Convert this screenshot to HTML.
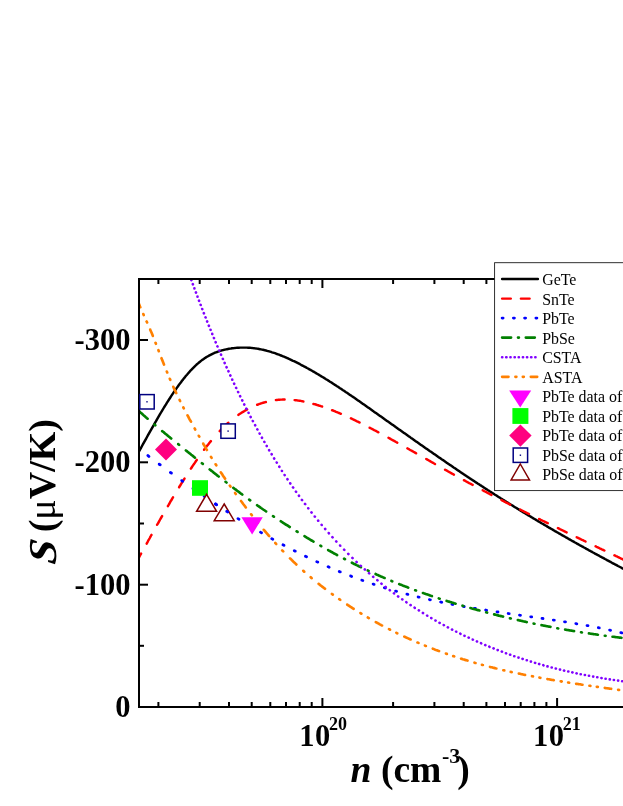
<!DOCTYPE html>
<html><head><meta charset="utf-8"><title>chart</title>
<style>html,body{margin:0;padding:0;background:#fff;}body{width:623px;height:806px;position:relative;overflow:hidden;font-family:"Liberation Serif",serif;}</style></head>
<body>
<svg width="623" height="806" viewBox="0 0 623 806" style="position:absolute;left:0;top:0;will-change:transform;opacity:0.999">
<defs><clipPath id="cp"><rect x="139" y="279" width="500" height="428"/></clipPath></defs>
<g clip-path="url(#cp)" fill="none" stroke-linecap="round" stroke-linejoin="round">
<path d="M133.0,462.3 L134.0,460.5 L135.0,458.7 L136.0,456.9 L137.0,455.1 L138.0,453.3 L139.0,451.5 L140.0,449.6 L141.0,447.8 L142.0,446.0 L143.0,444.2 L144.0,442.4 L145.0,440.6 L146.0,438.8 L147.0,437.0 L148.0,435.2 L149.0,433.4 L150.0,431.6 L151.0,429.9 L152.0,428.1 L153.0,426.3 L154.0,424.6 L155.0,422.8 L156.0,421.1 L157.0,419.3 L158.0,417.6 L159.0,415.9 L160.0,414.2 L161.0,412.5 L162.0,410.8 L163.0,409.2 L164.0,407.5 L165.0,405.9 L166.0,404.3 L167.0,402.7 L168.0,401.1 L169.0,399.5 L170.0,398.0 L171.0,396.4 L172.0,394.9 L173.0,393.4 L174.0,391.9 L175.0,390.5 L176.0,389.0 L177.0,387.6 L178.0,386.2 L179.0,384.8 L180.0,383.5 L181.0,382.2 L182.0,380.8 L183.0,379.6 L184.0,378.3 L185.0,377.1 L186.0,375.8 L187.0,374.7 L188.0,373.5 L189.0,372.4 L190.0,371.2 L191.0,370.2 L192.0,369.1 L193.0,368.1 L194.0,367.1 L195.0,366.1 L196.0,365.2 L197.0,364.2 L198.0,363.4 L199.0,362.5 L200.0,361.7 L201.0,360.9 L202.0,360.1 L203.0,359.4 L204.0,358.7 L205.0,358.0 L206.0,357.4 L207.0,356.8 L208.0,356.2 L209.0,355.6 L210.0,355.1 L211.0,354.6 L212.0,354.1 L213.0,353.6 L214.0,353.2 L215.0,352.7 L216.0,352.3 L217.0,352.0 L218.0,351.6 L219.0,351.3 L220.0,350.9 L221.0,350.6 L222.0,350.3 L223.0,350.1 L224.0,349.8 L225.0,349.6 L226.0,349.4 L227.0,349.2 L228.0,349.0 L229.0,348.8 L230.0,348.6 L231.0,348.5 L232.0,348.3 L233.0,348.2 L234.0,348.1 L235.0,348.0 L236.0,347.9 L237.0,347.8 L238.0,347.7 L239.0,347.7 L240.0,347.6 L241.0,347.6 L242.0,347.6 L243.0,347.6 L244.0,347.6 L245.0,347.6 L246.0,347.6 L247.0,347.6 L248.0,347.7 L249.0,347.7 L250.0,347.8 L251.0,347.9 L252.0,348.0 L253.0,348.1 L254.0,348.2 L255.0,348.4 L256.0,348.5 L257.0,348.6 L258.0,348.8 L259.0,349.0 L260.0,349.2 L261.0,349.4 L262.0,349.6 L263.0,349.8 L264.0,350.0 L265.0,350.3 L266.0,350.5 L267.0,350.8 L268.0,351.1 L269.0,351.3 L270.0,351.6 L271.0,351.9 L272.0,352.3 L273.0,352.6 L274.0,352.9 L275.0,353.2 L276.0,353.6 L277.0,354.0 L278.0,354.3 L279.0,354.7 L280.0,355.1 L281.0,355.5 L282.0,355.9 L283.0,356.3 L284.0,356.7 L285.0,357.1 L286.0,357.5 L287.0,358.0 L288.0,358.4 L289.0,358.9 L290.0,359.3 L291.0,359.8 L292.0,360.3 L293.0,360.8 L294.0,361.2 L295.0,361.7 L296.0,362.2 L297.0,362.7 L298.0,363.2 L299.0,363.7 L300.0,364.2 L301.0,364.8 L302.0,365.3 L303.0,365.8 L304.0,366.4 L305.0,366.9 L306.0,367.4 L307.0,368.0 L308.0,368.5 L309.0,369.1 L310.0,369.7 L311.0,370.2 L312.0,370.8 L313.0,371.4 L314.0,371.9 L315.0,372.5 L316.0,373.1 L317.0,373.7 L318.0,374.3 L319.0,374.9 L320.0,375.5 L321.0,376.1 L322.0,376.7 L323.0,377.3 L324.0,377.9 L325.0,378.5 L326.0,379.2 L327.0,379.8 L328.0,380.4 L329.0,381.0 L330.0,381.7 L331.0,382.3 L332.0,382.9 L333.0,383.6 L334.0,384.2 L335.0,384.9 L336.0,385.5 L337.0,386.2 L338.0,386.8 L339.0,387.5 L340.0,388.2 L341.0,388.8 L342.0,389.5 L343.0,390.2 L344.0,390.8 L345.0,391.5 L346.0,392.2 L347.0,392.8 L348.0,393.5 L349.0,394.2 L350.0,394.9 L351.0,395.6 L352.0,396.3 L353.0,396.9 L354.0,397.6 L355.0,398.3 L356.0,399.0 L357.0,399.7 L358.0,400.4 L359.0,401.1 L360.0,401.8 L361.0,402.5 L362.0,403.2 L363.0,403.9 L364.0,404.6 L365.0,405.3 L366.0,406.0 L367.0,406.7 L368.0,407.4 L369.0,408.1 L370.0,408.8 L371.0,409.5 L372.0,410.2 L373.0,410.9 L374.0,411.7 L375.0,412.4 L376.0,413.1 L377.0,413.8 L378.0,414.5 L379.0,415.2 L380.0,415.9 L381.0,416.6 L382.0,417.3 L383.0,418.0 L384.0,418.7 L385.0,419.5 L386.0,420.2 L387.0,420.9 L388.0,421.6 L389.0,422.3 L390.0,423.0 L391.0,423.7 L392.0,424.4 L393.0,425.1 L394.0,425.8 L395.0,426.5 L396.0,427.3 L397.0,428.0 L398.0,428.7 L399.0,429.4 L400.0,430.1 L401.0,430.8 L402.0,431.5 L403.0,432.2 L404.0,432.9 L405.0,433.6 L406.0,434.3 L407.0,435.0 L408.0,435.7 L409.0,436.4 L410.0,437.1 L411.0,437.9 L412.0,438.6 L413.0,439.3 L414.0,440.0 L415.0,440.7 L416.0,441.4 L417.0,442.1 L418.0,442.8 L419.0,443.5 L420.0,444.2 L421.0,444.9 L422.0,445.6 L423.0,446.3 L424.0,447.0 L425.0,447.7 L426.0,448.4 L427.0,449.1 L428.0,449.8 L429.0,450.5 L430.0,451.2 L431.0,451.8 L432.0,452.5 L433.0,453.2 L434.0,453.9 L435.0,454.6 L436.0,455.3 L437.0,456.0 L438.0,456.7 L439.0,457.4 L440.0,458.1 L441.0,458.8 L442.0,459.5 L443.0,460.1 L444.0,460.8 L445.0,461.5 L446.0,462.2 L447.0,462.9 L448.0,463.6 L449.0,464.2 L450.0,464.9 L451.0,465.6 L452.0,466.3 L453.0,467.0 L454.0,467.7 L455.0,468.3 L456.0,469.0 L457.0,469.7 L458.0,470.4 L459.0,471.0 L460.0,471.7 L461.0,472.4 L462.0,473.1 L463.0,473.7 L464.0,474.4 L465.0,475.1 L466.0,475.7 L467.0,476.4 L468.0,477.1 L469.0,477.7 L470.0,478.4 L471.0,479.1 L472.0,479.7 L473.0,480.4 L474.0,481.0 L475.0,481.7 L476.0,482.4 L477.0,483.0 L478.0,483.7 L479.0,484.3 L480.0,485.0 L481.0,485.6 L482.0,486.3 L483.0,486.9 L484.0,487.6 L485.0,488.2 L486.0,488.9 L487.0,489.5 L488.0,490.2 L489.0,490.8 L490.0,491.5 L491.0,492.1 L492.0,492.7 L493.0,493.4 L494.0,494.0 L495.0,494.7 L496.0,495.3 L497.0,495.9 L498.0,496.6 L499.0,497.2 L500.0,497.8 L501.0,498.5 L502.0,499.1 L503.0,499.7 L504.0,500.3 L505.0,501.0 L506.0,501.6 L507.0,502.2 L508.0,502.8 L509.0,503.5 L510.0,504.1 L511.0,504.7 L512.0,505.3 L513.0,505.9 L514.0,506.6 L515.0,507.2 L516.0,507.8 L517.0,508.4 L518.0,509.0 L519.0,509.6 L520.0,510.2 L521.0,510.9 L522.0,511.5 L523.0,512.1 L524.0,512.7 L525.0,513.3 L526.0,513.9 L527.0,514.5 L528.0,515.1 L529.0,515.7 L530.0,516.3 L531.0,516.9 L532.0,517.5 L533.0,518.1 L534.0,518.7 L535.0,519.3 L536.0,519.9 L537.0,520.5 L538.0,521.1 L539.0,521.7 L540.0,522.3 L541.0,522.9 L542.0,523.5 L543.0,524.0 L544.0,524.6 L545.0,525.2 L546.0,525.8 L547.0,526.4 L548.0,527.0 L549.0,527.6 L550.0,528.1 L551.0,528.7 L552.0,529.3 L553.0,529.9 L554.0,530.5 L555.0,531.1 L556.0,531.6 L557.0,532.2 L558.0,532.8 L559.0,533.4 L560.0,533.9 L561.0,534.5 L562.0,535.1 L563.0,535.7 L564.0,536.2 L565.0,536.8 L566.0,537.4 L567.0,537.9 L568.0,538.5 L569.0,539.1 L570.0,539.6 L571.0,540.2 L572.0,540.8 L573.0,541.3 L574.0,541.9 L575.0,542.5 L576.0,543.0 L577.0,543.6 L578.0,544.1 L579.0,544.7 L580.0,545.3 L581.0,545.8 L582.0,546.4 L583.0,546.9 L584.0,547.5 L585.0,548.0 L586.0,548.6 L587.0,549.2 L588.0,549.7 L589.0,550.3 L590.0,550.8 L591.0,551.4 L592.0,551.9 L593.0,552.5 L594.0,553.0 L595.0,553.6 L596.0,554.1 L597.0,554.6 L598.0,555.2 L599.0,555.7 L600.0,556.3 L601.0,556.8 L602.0,557.4 L603.0,557.9 L604.0,558.4 L605.0,559.0 L606.0,559.5 L607.0,560.1 L608.0,560.6 L609.0,561.1 L610.0,561.7 L611.0,562.2 L612.0,562.8 L613.0,563.3 L614.0,563.8 L615.0,564.4 L616.0,564.9 L617.0,565.4 L618.0,566.0 L619.0,566.5 L620.0,567.0 L621.0,567.5 L622.0,568.1 L623.0,568.6 L624.0,569.1 L625.0,569.7 L626.0,570.2 L627.0,570.7 L628.0,571.2 L629.0,571.8" stroke="#000" stroke-width="2.45"/>
<path d="M136.3,562.3L136.5,561.9L137.2,560.6L138.0,559.2L138.8,557.9L139.5,556.5L140.2,555.1L141.0,553.8L141.1,553.6M146.7,543.6L146.8,543.4L147.5,542.1L148.2,540.7L149.0,539.4L149.8,538.0L150.5,536.7L151.2,535.3L151.5,534.9M157.1,524.8L157.2,524.6L158.0,523.3L158.8,522.0L159.5,520.7L160.2,519.3L161.0,518.0L161.8,516.7L162.1,516.1M167.9,506.1L168.0,505.9L168.8,504.6L169.5,503.3L170.2,502.0L171.0,500.7L171.8,499.5L172.5,498.2L173.0,497.4M179.1,487.3L179.2,487.0L180.0,485.8L180.8,484.5L181.5,483.3L182.2,482.1L183.0,480.9L183.8,479.7L184.5,478.6M190.9,468.6L191.0,468.5L191.8,467.3L192.5,466.2L193.2,465.1L194.0,464.0L194.8,462.9L195.5,461.8L196.2,460.7L196.8,459.9M204.1,449.8L204.2,449.6L205.0,448.6L205.8,447.6L206.5,446.6L207.2,445.6L208.0,444.7L208.8,443.7L209.5,442.8L210.2,441.9L210.9,441.1M219.7,431.1L219.8,431.0L220.5,430.2L221.2,429.5L222.0,428.7L222.8,428.0L223.5,427.2L224.2,426.5L225.0,425.8L225.8,425.1L226.5,424.4L227.2,423.7L228.0,423.1L228.3,422.7M238.4,414.9L238.5,414.8L239.2,414.3L240.0,413.8L240.8,413.3L241.5,412.8L242.2,412.3L243.0,411.9L243.8,411.4L244.5,411.0L245.2,410.5L246.0,410.1L246.8,409.7L247.1,409.5M257.1,404.8L257.2,404.8L258.0,404.5L258.8,404.2L259.5,403.9L260.2,403.7L261.0,403.4L261.8,403.2L262.5,402.9L263.2,402.7L264.0,402.5L264.8,402.3L265.5,402.1L265.9,402.0M275.9,400.0L276.0,400.0L276.8,399.9L277.5,399.9L278.2,399.8L279.0,399.7L279.8,399.7L280.5,399.6L281.2,399.6L282.0,399.6L282.8,399.5L283.5,399.5L284.2,399.5L284.6,399.5M294.6,400.1L294.8,400.1L295.5,400.2L296.2,400.3L297.0,400.4L297.8,400.5L298.5,400.6L299.2,400.7L300.0,400.8L300.8,400.9L301.5,401.1L302.2,401.2L303.0,401.4L303.4,401.4M313.4,403.9L313.5,403.9L314.2,404.1L315.0,404.3L315.8,404.5L316.5,404.8L317.2,405.0L318.0,405.2L318.8,405.5L319.5,405.7L320.2,405.9L321.0,406.2L321.8,406.4L322.1,406.5M332.1,410.2L332.2,410.3L333.0,410.5L333.8,410.8L334.5,411.1L335.2,411.4L336.0,411.8L336.8,412.1L337.5,412.4L338.2,412.7L339.0,413.0L339.8,413.3L340.5,413.6L340.9,413.8M350.9,418.3L351.0,418.4L351.8,418.7L352.5,419.1L353.2,419.4L354.0,419.8L354.8,420.2L355.5,420.5L356.2,420.9L357.0,421.3L357.8,421.6L358.5,422.0L359.2,422.4L359.6,422.5M369.6,427.7L369.8,427.7L370.5,428.1L371.2,428.5L372.0,428.9L372.8,429.3L373.5,429.7L374.2,430.1L375.0,430.5L375.8,430.9L376.5,431.3L377.2,431.7L378.0,432.1L378.4,432.3M388.5,437.8L388.5,437.8L389.2,438.2L390.0,438.6L390.8,439.1L391.5,439.5L392.2,439.9L393.0,440.3L393.8,440.7L394.5,441.1L395.2,441.5L396.0,442.0L396.8,442.4L397.3,442.7M407.4,448.3L407.5,448.4L408.2,448.8L409.0,449.2L409.8,449.7L410.5,450.1L411.2,450.5L412.0,450.9L412.8,451.4L413.5,451.8L414.2,452.2L415.0,452.6L415.8,453.1L416.1,453.3M426.2,459.0L426.2,459.0L427.0,459.4L427.8,459.9L428.5,460.3L429.2,460.7L430.0,461.1L430.8,461.6L431.5,462.0L432.2,462.4L433.0,462.8L433.8,463.3L434.5,463.7L435.0,464.0M445.1,469.7L445.2,469.8L446.0,470.2L446.8,470.6L447.5,471.0L448.2,471.5L449.0,471.9L449.8,472.3L450.5,472.7L451.2,473.1L452.0,473.6L452.8,474.0L453.5,474.4L453.9,474.6M463.9,480.2L464.0,480.2L464.8,480.6L465.5,481.0L466.2,481.5L467.0,481.9L467.8,482.3L468.5,482.7L469.2,483.1L470.0,483.5L470.8,483.9L471.5,484.3L472.2,484.7L472.7,484.9M482.7,490.3L482.8,490.3L483.5,490.7L484.2,491.1L485.0,491.5L485.8,491.9L486.5,492.3L487.2,492.7L488.0,493.1L488.8,493.5L489.5,493.9L490.2,494.3L491.0,494.7L491.4,494.9M501.5,500.1L501.8,500.2L502.5,500.6L503.2,501.0L504.0,501.4L504.8,501.8L505.5,502.2L506.2,502.6L507.0,502.9L507.8,503.3L508.5,503.7L509.2,504.1L510.0,504.5L510.2,504.6M520.3,509.6L520.5,509.7L521.2,510.1L522.0,510.5L522.8,510.9L523.5,511.2L524.2,511.6L525.0,512.0L525.8,512.4L526.5,512.7L527.2,513.1L528.0,513.5L528.8,513.9L529.0,514.0M539.1,519.0L539.2,519.0L540.0,519.4L540.8,519.8L541.5,520.1L542.2,520.5L543.0,520.9L543.8,521.2L544.5,521.6L545.2,522.0L546.0,522.3L546.8,522.7L547.5,523.1L547.8,523.2M557.9,528.1L558.0,528.2L558.8,528.5L559.5,528.9L560.2,529.3L561.0,529.6L561.8,530.0L562.5,530.4L563.2,530.7L564.0,531.1L564.8,531.5L565.5,531.8L566.2,532.2L566.6,532.4M576.7,537.3L576.8,537.3L577.5,537.6L578.2,538.0L579.0,538.3L579.8,538.7L580.5,539.1L581.2,539.4L582.0,539.8L582.8,540.1L583.5,540.5L584.2,540.9L585.0,541.2L585.5,541.5M595.6,546.3L595.8,546.4L596.5,546.8L597.2,547.1L598.0,547.5L598.8,547.8L599.5,548.2L600.2,548.6L601.0,548.9L601.8,549.3L602.5,549.6L603.2,550.0L604.0,550.3L604.4,550.5M614.4,555.3L614.5,555.4L615.2,555.7L616.0,556.1L616.8,556.4L617.5,556.8L618.2,557.2L619.0,557.5L619.8,557.9L620.5,558.2L621.2,558.6L622.0,558.9L622.8,559.3L623.1,559.5" stroke="#ff0000" stroke-width="2.45"/>
<path d="M136.6,447.0L136.8,447.1L137.5,447.7L137.6,447.8M147.9,455.6L148.0,455.7L148.8,456.3L148.9,456.4M159.2,464.1L159.2,464.2L160.0,464.7L160.2,464.8M170.4,472.4L170.5,472.5L171.2,473.0L171.4,473.1M181.7,480.6L181.8,480.6L182.5,481.2L182.7,481.3M192.9,488.6L193.0,488.6L193.8,489.1L193.9,489.3M204.2,496.4L204.2,496.4L205.0,496.9L205.2,497.1M215.5,504.0L215.5,504.0L216.2,504.5L216.5,504.7M226.7,511.4L226.8,511.4L227.5,511.9L227.7,512.1M238.0,518.6L238.0,518.6L238.8,519.1L239.0,519.2M249.2,525.5L249.2,525.5L250.0,526.0L250.2,526.1M260.5,532.2L260.8,532.4L261.5,532.8M271.8,538.7L272.0,538.8L272.8,539.2L272.8,539.2M283.0,544.8L283.2,544.9L284.0,545.3L284.0,545.4M294.3,550.7L294.5,550.8L295.2,551.2L295.3,551.2M305.5,556.3L305.8,556.4L306.5,556.8L306.5,556.8M316.8,561.7L317.0,561.8L317.8,562.1L317.8,562.1M328.1,566.7L328.2,566.8L329.0,567.1L329.1,567.2M339.3,571.5L339.5,571.6L340.2,571.9L340.3,571.9M350.6,576.0L350.8,576.0L351.5,576.3L351.6,576.4M361.8,580.2L362.0,580.2L362.8,580.5L362.8,580.5M373.1,584.1L373.2,584.1L374.0,584.4L374.1,584.4M384.4,587.7L384.5,587.8L385.2,588.0L385.4,588.0M395.6,591.1L395.8,591.1L396.5,591.3L396.6,591.3M406.9,594.2L407.0,594.2L407.8,594.4L407.9,594.4M418.1,597.0L418.2,597.0L419.0,597.2L419.1,597.2M429.4,599.6L429.5,599.6L430.2,599.8L430.4,599.8M440.7,602.0L440.8,602.1L441.5,602.2L441.7,602.3M451.9,604.3L452.0,604.3L452.8,604.5L452.9,604.5M463.2,606.4L463.2,606.4L464.0,606.5L464.2,606.6M474.4,608.3L474.5,608.3L475.2,608.5L475.4,608.5M485.7,610.1L485.8,610.2L486.5,610.3L486.7,610.3M497.0,611.9L497.0,611.9L497.8,612.0L498.0,612.0M508.2,613.5L508.2,613.5L509.0,613.7L509.2,613.7M519.5,615.2L519.5,615.2L520.2,615.3L520.5,615.3M530.7,616.8L530.8,616.8L531.5,616.9L531.7,616.9M542.0,618.4L542.2,618.4L543.0,618.5M553.3,620.1L553.5,620.1L554.2,620.2L554.3,620.2M564.5,621.8L564.8,621.8L565.5,621.9L565.5,621.9M575.8,623.6L576.0,623.6L576.8,623.8L576.8,623.8M587.0,625.6L587.2,625.6L588.0,625.7L588.0,625.7M598.3,627.7L598.5,627.7L599.2,627.9L599.3,627.9M609.6,630.1L609.8,630.1L610.5,630.3L610.6,630.3M620.8,632.7L621.0,632.7L621.8,632.9L621.8,632.9" stroke="#0000ff" stroke-width="2.8"/>
<path d="M138.6,410.7L138.8,410.9L139.5,411.5L140.2,412.2L141.0,412.9L141.8,413.6L142.5,414.2L143.2,414.9L144.0,415.6L144.8,416.2L145.5,416.9L146.2,417.5L147.0,418.2L147.6,418.7M154.4,424.6L154.5,424.6L155.2,425.2L155.3,425.3M162.2,431.1L162.2,431.1L163.0,431.7L163.8,432.3L164.5,433.0L165.2,433.6L166.0,434.2L166.8,434.8L167.5,435.4L168.2,436.0L169.0,436.7L169.8,437.3L170.5,437.9L171.2,438.5M178.2,444.1L178.2,444.2L179.0,444.8L179.1,444.9M185.9,450.4L186.0,450.5L186.8,451.1L187.5,451.7L188.2,452.3L189.0,452.9L189.8,453.5L190.5,454.1L191.2,454.7L192.0,455.3L192.8,455.9L193.5,456.5L194.2,457.1L194.9,457.7M201.9,463.2L202.0,463.3L202.8,463.9L202.8,463.9M209.7,469.4L209.8,469.5L210.5,470.1L211.2,470.7L212.0,471.2L212.8,471.8L213.5,472.4L214.2,473.0L215.0,473.6L215.8,474.2L216.5,474.8L217.2,475.4L218.0,476.0L218.7,476.5M225.6,481.8L225.8,482.0L226.5,482.5M233.3,487.8L233.5,487.9L234.2,488.5L235.0,489.1L235.8,489.6L236.5,490.2L237.2,490.8L238.0,491.3L238.8,491.9L239.5,492.4L240.2,493.0L241.0,493.6L241.8,494.1L242.3,494.6M249.2,499.6L249.5,499.8L250.2,500.3M257.1,505.2L257.2,505.3L258.0,505.9L258.8,506.4L259.5,506.9L260.2,507.4L261.0,508.0L261.8,508.5L262.5,509.0L263.2,509.5L264.0,510.0L264.8,510.5L265.5,511.0L266.1,511.4M273.0,516.1L273.0,516.1L273.8,516.6L273.9,516.7M280.8,521.2L281.0,521.4L281.8,521.9L282.5,522.3L283.2,522.8L284.0,523.3L284.8,523.8L285.5,524.3L286.2,524.8L287.0,525.2L287.8,525.7L288.5,526.2L289.2,526.7L289.8,527.0M296.6,531.3L296.8,531.4L297.5,531.9L297.6,531.9M304.5,536.2L304.5,536.2L305.2,536.6L306.0,537.1L306.8,537.6L307.5,538.0L308.2,538.5L309.0,538.9L309.8,539.4L310.5,539.8L311.2,540.3L312.0,540.7L312.8,541.2L313.5,541.6M320.4,545.6L320.5,545.7L321.2,546.2L321.2,546.2M328.1,550.1L328.2,550.1L329.0,550.6L329.8,551.0L330.5,551.4L331.2,551.8L332.0,552.2L332.8,552.7L333.5,553.1L334.2,553.5L335.0,553.9L335.8,554.3L336.5,554.7L337.1,555.1M344.1,558.7L344.2,558.8L345.0,559.2M351.9,562.7L352.0,562.8L352.8,563.2L353.5,563.6L354.2,564.0L355.0,564.3L355.8,564.7L356.5,565.1L357.2,565.4L358.0,565.8L358.8,566.2L359.5,566.5L360.2,566.9L360.9,567.2M367.8,570.5L368.0,570.6L368.6,570.9M375.6,574.0L375.8,574.1L376.5,574.5L377.2,574.8L378.0,575.1L378.8,575.5L379.5,575.8L380.2,576.1L381.0,576.5L381.8,576.8L382.5,577.1L383.2,577.4L384.0,577.8L384.6,578.0M391.4,580.9L391.5,580.9L392.2,581.3L392.3,581.3M399.2,584.1L399.5,584.2L400.2,584.5L401.0,584.8L401.8,585.1L402.5,585.4L403.2,585.7L404.0,586.0L404.8,586.3L405.5,586.5L406.2,586.8L407.0,587.1L407.8,587.4L408.2,587.6M415.1,590.2L415.2,590.2L416.0,590.5L416.0,590.5M422.9,593.0L423.0,593.0L423.8,593.3L424.5,593.5L425.2,593.8L426.0,594.1L426.8,594.3L427.5,594.6L428.2,594.8L429.0,595.1L429.8,595.4L430.5,595.6L431.2,595.9L431.9,596.1M438.8,598.4L439.0,598.5L439.7,598.7M446.6,600.9L446.8,600.9L447.5,601.2L448.2,601.4L449.0,601.6L449.8,601.9L450.5,602.1L451.2,602.3L452.0,602.6L452.8,602.8L453.5,603.0L454.2,603.3L455.0,603.5L455.6,603.7M462.5,605.7L462.8,605.8L463.4,606.0M470.4,608.0L470.5,608.0L471.2,608.2L472.0,608.5L472.8,608.7L473.5,608.9L474.2,609.1L475.0,609.3L475.8,609.5L476.5,609.7L477.2,609.9L478.0,610.1L478.8,610.3L479.4,610.5M486.2,612.3L486.5,612.4L487.1,612.6M494.1,614.4L494.2,614.4L495.0,614.6L495.8,614.8L496.5,615.0L497.2,615.2L498.0,615.4L498.8,615.6L499.5,615.7L500.2,615.9L501.0,616.1L501.8,616.3L502.5,616.5L503.1,616.6M509.9,618.3L510.0,618.3L510.8,618.5L510.8,618.5M517.8,620.1L518.0,620.1L518.8,620.3L519.5,620.5L520.2,620.6L521.0,620.8L521.8,621.0L522.5,621.1L523.2,621.3L524.0,621.5L524.8,621.6L525.5,621.8L526.2,622.0L526.8,622.1M533.6,623.6L533.8,623.6L534.5,623.7L534.5,623.7M541.5,625.1L541.5,625.2L542.2,625.3L543.0,625.5L543.8,625.6L544.5,625.8L545.2,625.9L546.0,626.0L546.8,626.2L547.5,626.3L548.2,626.5L549.0,626.6L549.8,626.8L550.5,626.9M557.3,628.2L557.5,628.2L558.2,628.4M565.1,629.6L565.2,629.6L566.0,629.7L566.8,629.9L567.5,630.0L568.2,630.1L569.0,630.2L569.8,630.4L570.5,630.5L571.2,630.6L572.0,630.8L572.8,630.9L573.5,631.0L574.1,631.1M581.0,632.2L581.2,632.2L581.9,632.4M588.9,633.4L589.0,633.4L589.8,633.5L590.5,633.7L591.2,633.8L592.0,633.9L592.8,634.0L593.5,634.1L594.2,634.2L595.0,634.3L595.8,634.4L596.5,634.5L597.2,634.6L597.9,634.7M604.8,635.7L605.0,635.7L605.6,635.8M612.5,636.7L612.8,636.7L613.5,636.8L614.2,636.9L615.0,637.0L615.8,637.1L616.5,637.2L617.2,637.3L618.0,637.4L618.8,637.5L619.5,637.6L620.2,637.6L621.0,637.7L621.5,637.8M628.5,638.6L628.5,638.6L629.2,638.7L629.3,638.7" stroke="#008000" stroke-width="2.65"/>
<path d="M188.3,271.6L188.4,271.8M189.8,275.8L189.9,276.0M191.3,279.9L191.4,280.1M192.8,284.1L192.9,284.3M194.4,288.2L194.4,288.4M195.9,292.4L196.0,292.6M197.5,296.5L197.5,296.6L197.5,296.7M199.0,300.7L199.1,300.9M200.6,304.8L200.7,305.0M202.2,309.0L202.2,309.0L202.3,309.2M203.8,313.1L203.9,313.3M205.5,317.3L205.5,317.3L205.6,317.5M207.1,321.4L207.2,321.6M208.8,325.6L208.9,325.8M210.5,329.7L210.5,329.8L210.6,329.9M212.2,333.9L212.2,334.0L212.3,334.1M213.9,338.0L214.0,338.2M215.6,342.2L215.7,342.4M217.4,346.3L217.5,346.5M219.2,350.5L219.2,350.6L219.3,350.7M221.0,354.6L221.0,354.7L221.1,354.8M222.8,358.8L222.9,359.0M224.6,362.9L224.7,363.1M226.5,367.1L226.5,367.1L226.6,367.3M228.4,371.2L228.5,371.4M230.3,375.4L230.4,375.6M232.2,379.5L232.2,379.7L232.3,379.7M234.1,383.7L234.2,383.9M236.1,387.8L236.2,388.0M238.1,392.0L238.2,392.2M240.1,396.1L240.2,396.3M242.2,400.3L242.2,400.4L242.3,400.5M244.2,404.4L244.2,404.4L244.3,404.6M246.3,408.6L246.5,408.8M248.5,412.7L248.5,412.8L248.6,412.9M250.6,416.9L250.7,417.1M252.8,421.0L252.9,421.2M255.1,425.2L255.2,425.4M257.3,429.3L257.4,429.5M259.6,433.5L259.7,433.7M261.9,437.6L262.0,437.8L262.0,437.8M264.3,441.8L264.4,442.0M266.7,445.9L266.8,446.0L266.8,446.1M269.1,450.1L269.2,450.3M271.6,454.2L271.7,454.4M274.1,458.4L274.2,458.6M276.7,462.5L276.8,462.7L276.8,462.7M279.3,466.7L279.4,466.9M281.9,470.8L282.0,470.9L282.0,471.0M284.6,475.0L284.7,475.2M287.4,479.1L287.5,479.3L287.5,479.3M290.2,483.3L290.2,483.4L290.3,483.5M293.0,487.4L293.2,487.6M295.9,491.6L296.0,491.7L296.1,491.8M298.9,495.7L299.0,495.9L299.0,495.9M301.9,499.9L302.0,500.0L302.1,500.1M305.0,504.0L305.2,504.2M308.2,508.2L308.2,508.3L308.3,508.4M311.4,512.3L311.5,512.4L311.6,512.5M314.7,516.5L314.8,516.5L314.9,516.7M318.1,520.6L318.2,520.8L318.3,520.8M321.6,524.8L321.7,525.0M325.1,528.9L325.2,529.1L325.3,529.1M328.7,533.1L328.8,533.1L328.9,533.3M332.4,537.2L332.5,537.3L332.6,537.4M336.2,541.4L336.2,541.4L336.4,541.6M340.1,545.5L340.2,545.7L340.3,545.7M344.1,549.7L344.2,549.8L344.3,549.9M348.2,553.8L348.2,553.8L348.4,554.0M352.4,557.9L352.5,558.0L352.6,558.1M356.5,561.9L356.7,562.1M360.7,565.8L360.8,565.8L360.9,565.9M364.8,569.5L365.0,569.7L365.0,569.7M369.0,573.2L369.0,573.2L369.2,573.4M373.1,576.8L373.2,576.9L373.3,576.9M377.3,580.2L377.5,580.4M381.4,583.6L381.5,583.7L381.6,583.8M385.6,586.9L385.8,587.1L385.8,587.1M389.7,590.1L389.8,590.2L389.9,590.3M393.9,593.3L394.0,593.4L394.1,593.4M398.0,596.3L398.2,596.5M402.2,599.3L402.2,599.3L402.4,599.4M406.3,602.2L406.5,602.3L406.5,602.3M410.5,605.0L410.5,605.0L410.7,605.1M414.6,607.7L414.8,607.8L414.8,607.9M418.8,610.4L419.0,610.5M422.9,613.0L423.0,613.1L423.1,613.1M427.1,615.6L427.2,615.7L427.3,615.7M431.2,618.0L431.2,618.1L431.4,618.2M435.4,620.5L435.5,620.5L435.6,620.6M439.5,622.8L439.7,622.9M443.7,625.1L443.8,625.1L443.9,625.2M447.8,627.3L448.0,627.4L448.0,627.4M452.0,629.5L452.0,629.5L452.2,629.6M456.1,631.6L456.2,631.7L456.3,631.7M460.3,633.7L460.5,633.8M464.4,635.7L464.5,635.7L464.6,635.8M468.6,637.6L468.8,637.7L468.8,637.7M472.7,639.6L472.8,639.6L472.9,639.7M476.9,641.4L477.0,641.5L477.1,641.5M481.0,643.2L481.2,643.3M485.2,645.0L485.2,645.0L485.4,645.1M489.3,646.7L489.5,646.8L489.5,646.8M493.5,648.4L493.5,648.4L493.7,648.5M497.6,650.1L497.8,650.1L497.8,650.1M501.8,651.6L502.0,651.7M505.9,653.2L506.0,653.2L506.1,653.3M510.1,654.7L510.2,654.8L510.3,654.8M514.2,656.2L514.2,656.2L514.4,656.2M518.4,657.6L518.5,657.6L518.6,657.6M522.5,658.9L522.7,659.0M526.7,660.3L526.8,660.3L526.9,660.3M530.8,661.6L531.0,661.6L531.0,661.6M535.0,662.8L535.0,662.8L535.2,662.9M539.1,664.0L539.2,664.1L539.3,664.1M543.3,665.2L543.5,665.3M547.4,666.4L547.5,666.4L547.6,666.4M551.6,667.5L551.8,667.5L551.8,667.5M555.7,668.5L555.8,668.5L555.9,668.6M559.9,669.6L560.0,669.6L560.1,669.6M564.0,670.5L564.2,670.6M568.2,671.5L568.2,671.5L568.4,671.5M572.3,672.4L572.5,672.5L572.5,672.5M576.5,673.3L576.5,673.3L576.7,673.4M580.6,674.2L580.8,674.2L580.8,674.2M584.8,675.0L585.0,675.0M588.9,675.8L589.0,675.8L589.1,675.8M593.1,676.6L593.2,676.6L593.3,676.6M597.2,677.3L597.2,677.3L597.4,677.3M601.4,678.0L601.5,678.0L601.6,678.1M605.5,678.7L605.7,678.7M609.7,679.4L609.8,679.4L609.9,679.4M613.8,680.0L614.0,680.0L614.0,680.0M618.0,680.6L618.0,680.6L618.2,680.6M622.1,681.2L622.2,681.2L622.3,681.2M626.3,681.8L626.5,681.8" stroke="#8000ff" stroke-width="2.6"/>
<path d="M134.9,292.8L135.0,293.0L135.3,293.8M137.8,300.8L138.0,301.4L138.8,303.4L139.5,305.2L140.2,307.1L140.3,307.2M143.3,314.1L143.5,314.6L143.7,315.1M146.6,321.5L146.8,321.8L147.1,322.5M150.2,329.5L150.2,329.7L151.0,331.5L151.8,333.3L152.5,335.1L152.8,335.9M155.5,342.8L155.8,343.3L155.9,343.8M158.4,350.2L158.5,350.4L158.8,351.2M161.5,358.2L161.5,358.2L162.2,360.1L163.0,362.1L163.8,364.0L164.0,364.6M166.8,371.5L167.0,372.0L167.2,372.5M169.8,378.8L170.0,379.2L170.3,379.8M173.3,386.8L173.5,387.2L174.2,388.9L175.0,390.5L175.8,392.1L176.2,393.1M179.6,400.0L179.8,400.4L180.1,401.0M183.3,407.4L183.5,407.8L183.8,408.4M187.5,415.4L187.8,415.8L188.5,417.2L189.2,418.6L190.0,420.0L190.8,421.3L191.0,421.7M194.7,428.5L194.8,428.6L195.2,429.5M198.7,435.8L198.8,435.8L199.3,436.7M203.2,443.6L203.2,443.7L204.0,445.0L204.8,446.3L205.5,447.6L206.2,448.9L206.9,450.0M211.0,456.9L211.2,457.2L211.6,457.9M215.6,464.3L215.8,464.5L216.3,465.3M220.8,472.3L221.0,472.6L221.8,473.7L222.5,474.8L223.2,476.0L224.0,477.1L224.8,478.2L225.1,478.7M229.8,485.6L230.0,485.8L230.5,486.6M235.1,493.0L235.2,493.2L235.8,494.0M241.0,501.0L241.0,501.0L241.8,502.0L242.5,503.0L243.2,504.0L244.0,505.0L244.8,506.0L245.5,507.0L245.8,507.4M251.1,514.3L251.2,514.4L251.9,515.3M257.1,521.7L257.2,521.9L257.9,522.7M263.7,529.7L263.8,529.7L264.5,530.6L265.2,531.5L266.0,532.4L266.8,533.3L267.5,534.1L268.2,535.0L269.0,535.9L269.2,536.1M275.3,543.0L275.5,543.2L276.2,544.0M282.2,550.4L282.2,550.4L283.0,551.2L283.2,551.4M290.0,558.4L290.2,558.6L291.0,559.3L291.8,560.0L292.5,560.8L293.2,561.5L294.0,562.2L294.8,562.9L295.5,563.6L296.2,564.4L296.4,564.5M303.3,570.8L303.5,571.0L304.2,571.7L304.3,571.7M310.7,577.2L310.8,577.3L311.5,578.0L311.7,578.1M318.6,583.8L318.8,583.9L319.5,584.5L320.2,585.1L321.0,585.7L321.8,586.3L322.5,586.9L323.2,587.4L324.0,588.0L324.8,588.6L325.0,588.8M331.9,593.9L332.0,594.0L332.8,594.6L332.9,594.6M339.2,599.2L339.2,599.2L340.0,599.7L340.2,599.9M347.2,604.6L347.2,604.7L348.0,605.2L348.8,605.6L349.5,606.1L350.2,606.6L351.0,607.1L351.8,607.6L352.5,608.1L353.2,608.6L353.6,608.8M360.4,613.1L360.5,613.1L361.2,613.6L361.4,613.7M367.8,617.5L368.0,617.6L368.8,618.1L368.8,618.1M375.8,622.1L376.0,622.2L376.8,622.6L377.5,623.0L378.2,623.4L379.0,623.8L379.8,624.3L380.5,624.7L381.2,625.1L382.0,625.5L382.1,625.5M389.0,629.1L389.0,629.1L389.8,629.5L390.0,629.7M396.4,632.8L396.5,632.9L397.2,633.3L397.3,633.3M404.3,636.6L404.5,636.7L405.2,637.1L406.0,637.4L406.8,637.8L407.5,638.1L408.2,638.4L409.0,638.8L409.8,639.1L410.5,639.5L410.7,639.5M417.5,642.5L417.8,642.6L418.5,642.9L418.5,643.0M424.9,645.6L425.0,645.6L425.8,646.0L425.9,646.0M432.8,648.7L433.0,648.8L433.8,649.1L434.5,649.4L435.2,649.7L436.0,650.0L436.8,650.2L437.5,650.5L438.2,650.8L439.0,651.1L439.1,651.1M445.9,653.6L446.0,653.6L446.8,653.9L446.9,653.9M453.2,656.1L453.2,656.1L454.0,656.3L454.2,656.4M461.1,658.6L461.2,658.7L462.0,658.9L462.8,659.2L463.5,659.4L464.2,659.6L465.0,659.9L465.8,660.1L466.5,660.3L467.2,660.5L467.5,660.6M474.5,662.7L474.5,662.7L475.2,662.9L475.5,663.0M481.9,664.8L482.0,664.8L482.8,665.0L482.9,665.0M490.0,666.9L490.2,667.0L491.0,667.2L491.8,667.3L492.5,667.5L493.2,667.7L494.0,667.9L494.8,668.1L495.5,668.3L496.2,668.5L496.4,668.5M503.3,670.2L503.5,670.2L504.2,670.4L504.3,670.4M510.7,671.9L510.8,671.9L511.5,672.0L511.7,672.1M518.8,673.6L519.0,673.6L519.8,673.8L520.5,673.9L521.2,674.1L522.0,674.3L522.8,674.4L523.5,674.6L524.2,674.7L525.0,674.9L525.1,674.9M532.0,676.2L532.2,676.3L533.0,676.4L533.0,676.4M539.4,677.6L539.5,677.6L540.2,677.8L540.4,677.8M547.4,679.1L547.5,679.1L548.2,679.2L549.0,679.3L549.8,679.5L550.5,679.6L551.2,679.7L552.0,679.9L552.8,680.0L553.5,680.1L553.8,680.2M560.7,681.3L560.8,681.3L561.5,681.4L561.7,681.5M568.1,682.5L568.2,682.5L569.0,682.6L569.1,682.7M576.1,683.8L576.2,683.8L577.0,683.9L577.8,684.0L578.5,684.1L579.2,684.2L580.0,684.3L580.8,684.4L581.5,684.6L582.2,684.7L582.5,684.7M589.4,685.7L589.5,685.7L590.2,685.8L590.4,685.9M596.8,686.8L597.0,686.8L597.8,686.9L597.8,686.9M604.8,687.9L605.0,688.0L605.8,688.1L606.5,688.2L607.2,688.3L608.0,688.4L608.8,688.5L609.5,688.6L610.2,688.7L611.0,688.8L611.2,688.8M618.1,689.8L618.2,689.8L619.0,689.9L619.1,689.9M625.5,690.8L625.8,690.8L626.5,690.9L626.5,691.0" stroke="#ff8000" stroke-width="2.65"/>
</g>
<g stroke="#000" stroke-width="2" fill="none">
<path d="M139,278 V708 M138,279 H623 M138,707 H623"/>
<path d="M139,645.8 h5"/>
<path d="M139,584.7 h9"/>
<path d="M139,523.5 h5"/>
<path d="M139,462.3 h9"/>
<path d="M139,401.2 h5"/>
<path d="M139,340.0 h9"/>
<path d="M158.4,707 v-5 M158.4,279 v5"/>
<path d="M199.7,707 v-5 M199.7,279 v5"/>
<path d="M229.0,707 v-5 M229.0,279 v5"/>
<path d="M251.7,707 v-5 M251.7,279 v5"/>
<path d="M270.3,707 v-5 M270.3,279 v5"/>
<path d="M286.0,707 v-5 M286.0,279 v5"/>
<path d="M299.7,707 v-5 M299.7,279 v5"/>
<path d="M311.7,707 v-5 M311.7,279 v5"/>
<path d="M322.4,707 v-9 M322.4,279 v9"/>
<path d="M393.1,707 v-5 M393.1,279 v5"/>
<path d="M434.4,707 v-5 M434.4,279 v5"/>
<path d="M463.7,707 v-5 M463.7,279 v5"/>
<path d="M486.4,707 v-5 M486.4,279 v5"/>
<path d="M505.0,707 v-5 M505.0,279 v5"/>
<path d="M520.7,707 v-5 M520.7,279 v5"/>
<path d="M534.4,707 v-5 M534.4,279 v5"/>
<path d="M546.4,707 v-5 M546.4,279 v5"/>
<path d="M557.1,707 v-9 M557.1,279 v9"/>
</g>
<g>
<rect x="139.8" y="394.6" width="14.4" height="14.4" fill="#fff" stroke="#000080" stroke-width="1.5"/><rect x="146.3" y="401.1" width="1.4" height="1.4" fill="#000080"/>
<rect x="220.9" y="423.9" width="14.4" height="14.4" fill="#fff" stroke="#000080" stroke-width="1.5"/><rect x="227.4" y="430.4" width="1.4" height="1.4" fill="#000080"/>
<path d="M166,438.6 L177,449.6 L166,460.6 L155,449.6 Z" fill="#ff0080"/>
<rect x="192" y="480.2" width="16" height="15.6" fill="#00ff00"/>
<path d="M206.6,494.3 L216.6,511.3 L196.6,511.3 Z" fill="#fff" stroke="#800000" stroke-width="1.5" stroke-linejoin="miter"/>
<path d="M224.2,504 L234.2,520.7 L214.2,520.7 Z" fill="#fff" stroke="#800000" stroke-width="1.5" stroke-linejoin="miter"/>
<path d="M215.5,504.0L215.5,504.0L216.2,504.5L216.5,504.7M226.7,511.4L226.8,511.4L227.5,511.9L227.7,512.1" fill="none" stroke-linecap="round" stroke="#0000ff" stroke-width="2.8"/>
<path d="M241.4,517.2 L262.8,517.2 L252.1,534.6 Z" fill="#ff00ff"/>
</g>
<rect x="494.6" y="262.7" width="140" height="227.9" fill="#fff" stroke="#1a1a1a" stroke-width="0.9"/>
<g fill="none" stroke-linecap="round">
<path d="M502.1,279.0 H537.9" stroke="#000" stroke-width="2.45"/>
<path d="M502.1,298.6L502.2,298.6L502.5,298.6L502.8,298.6L503.1,298.6L503.4,298.6L503.7,298.6L504.0,298.6L504.3,298.6L504.6,298.6L504.9,298.6L505.2,298.6L505.5,298.6L505.8,298.6L506.1,298.6L506.4,298.6L506.7,298.6L507.0,298.6L507.3,298.6L507.6,298.6L507.9,298.6L508.2,298.6L508.5,298.6L508.8,298.6L509.1,298.6L509.4,298.6L509.7,298.6L510.0,298.6L510.3,298.6L510.6,298.6L510.8,298.6M520.9,298.6L520.9,298.6L521.2,298.6L521.5,298.6L521.8,298.6L522.1,298.6L522.4,298.6L522.7,298.6L523.0,298.6L523.3,298.6L523.6,298.6L523.9,298.6L524.2,298.6L524.5,298.6L524.8,298.6L525.1,298.6L525.4,298.6L525.7,298.6L526.0,298.6L526.3,298.6L526.6,298.6L526.9,298.6L527.2,298.6L527.5,298.6L527.8,298.6L528.1,298.6L528.4,298.6L528.7,298.6L529.0,298.6L529.3,298.6L529.6,298.6" stroke="#ff0000" stroke-width="2.45"/>
<path d="M502.1,318.1L502.2,318.1L502.5,318.1L502.8,318.1L503.1,318.1M513.4,318.1L513.4,318.1L513.7,318.1L514.0,318.1L514.3,318.1L514.4,318.1M524.6,318.1L524.7,318.1L525.0,318.1L525.3,318.1L525.6,318.1L525.6,318.1M535.9,318.1L535.9,318.1L536.2,318.1L536.5,318.1L536.8,318.1L536.9,318.1" stroke="#0000ff" stroke-width="2.8"/>
<path d="M502.1,337.6L502.2,337.6L502.5,337.6L502.8,337.6L503.1,337.6L503.4,337.6L503.7,337.6L504.0,337.6L504.3,337.6L504.6,337.6L504.9,337.6L505.2,337.6L505.5,337.6L505.8,337.6L506.1,337.6L506.4,337.6L506.7,337.6L507.0,337.6L507.3,337.6L507.6,337.6L507.9,337.6L508.2,337.6L508.5,337.6L508.8,337.6L509.1,337.6L509.4,337.6L509.7,337.6L510.0,337.6L510.3,337.6L510.6,337.6L510.9,337.6L511.1,337.6M518.0,337.6L518.0,337.6L518.3,337.6L518.6,337.6L518.9,337.6M525.8,337.6L525.8,337.6L526.1,337.6L526.4,337.6L526.7,337.6L527.0,337.6L527.3,337.6L527.6,337.6L527.9,337.6L528.2,337.6L528.5,337.6L528.8,337.6L529.1,337.6L529.4,337.6L529.7,337.6L530.0,337.6L530.3,337.6L530.6,337.6L530.9,337.6L531.2,337.6L531.5,337.6L531.8,337.6L532.1,337.6L532.4,337.6L532.7,337.6L533.0,337.6L533.3,337.6L533.6,337.6L533.9,337.6L534.2,337.6L534.5,337.6L534.8,337.6" stroke="#008000" stroke-width="2.65"/>
<path d="M502.1,357.2L502.2,357.2L502.3,357.2M506.2,357.2L506.3,357.2L506.5,357.2M510.4,357.2L510.4,357.2L510.6,357.2M514.6,357.2L514.6,357.2L514.8,357.2M518.7,357.2L518.7,357.2L518.9,357.2M522.9,357.2L522.9,357.2L523.1,357.2M527.0,357.2L527.0,357.2L527.2,357.2M531.1,357.2L531.2,357.2L531.4,357.2M535.3,357.2L535.3,357.2L535.5,357.2" stroke="#8000ff" stroke-width="2.6"/>
<path d="M502.1,376.8L502.2,376.8L502.5,376.8L502.8,376.8L503.1,376.8L503.4,376.8L503.7,376.8L504.0,376.8L504.3,376.8L504.6,376.8L504.9,376.8L505.2,376.8L505.5,376.8L505.8,376.8L506.1,376.8L506.4,376.8L506.7,376.8L507.0,376.8L507.3,376.8L507.6,376.8L507.9,376.8L508.2,376.8L508.5,376.8M515.4,376.8L515.4,376.8L515.7,376.8L516.0,376.8L516.3,376.8L516.4,376.8M522.8,376.8L522.8,376.8L523.1,376.8L523.4,376.8L523.7,376.8L523.8,376.8M530.8,376.8L530.8,376.8L531.1,376.8L531.4,376.8L531.7,376.8L532.0,376.8L532.3,376.8L532.6,376.8L532.9,376.8L533.2,376.8L533.5,376.8L533.8,376.8L534.1,376.8L534.4,376.8L534.7,376.8L535.0,376.8L535.3,376.8L535.6,376.8L535.9,376.8L536.2,376.8L536.5,376.8L536.8,376.8L537.1,376.8L537.2,376.8" stroke="#ff8000" stroke-width="2.65"/>
</g>
<path d="M509.2,390.4 L531.2,390.4 L520.2,407.6 Z" fill="#ff00ff"/>
<rect x="512.4" y="408.1" width="16" height="15.8" fill="#00ff00"/>
<path d="M520.4,424.5 L531.6,435.6 L520.4,446.7 L509.2,435.6 Z" fill="#ff0080"/>
<rect x="513.2" y="448.0" width="14.4" height="14.4" fill="#fff" stroke="#000080" stroke-width="1.5"/><rect x="519.7" y="454.5" width="1.4" height="1.4" fill="#000080"/>
<path d="M520.3,464.0 L529.5,480.0 L511.09999999999997,480.0 Z" fill="#fff" stroke="#800000" stroke-width="1.5" stroke-linejoin="miter"/>
<g font-family="Liberation Serif, serif" font-size="15.9" fill="#000">
<text x="542.2" y="285.3">GeTe</text>
<text x="542.2" y="304.8">SnTe</text>
<text x="542.2" y="324.3">PbTe</text>
<text x="542.2" y="343.8">PbSe</text>
<text x="542.2" y="363.3">CSTA</text>
<text x="542.2" y="382.8">ASTA</text>
<text x="542.2" y="402.3">PbTe data of</text>
<text x="542.2" y="421.8">PbTe data of</text>
<text x="542.2" y="441.3">PbTe data of</text>
<text x="542.2" y="460.8">PbSe data of</text>
<text x="542.2" y="480.3">PbSe data of</text>
</g>
<g font-family="Liberation Serif, serif" font-weight="bold" font-size="30.5" fill="#000">
<text x="130.5" y="349.7" text-anchor="end">-300</text>
<text x="130.5" y="471.7" text-anchor="end">-200</text>
<text x="130.5" y="594.7" text-anchor="end">-100</text>
<text x="130.5" y="716.7" text-anchor="end">0</text>
<text x="299.2" y="746"><tspan letter-spacing="0.5">10</tspan><tspan font-size="18" dy="-16.4" dx="-1.8">20</tspan></text>
<text x="533" y="746"><tspan letter-spacing="0.5">10</tspan><tspan font-size="18" dy="-16.4" dx="-1.8">21</tspan></text>
</g>
<g font-family="Liberation Serif, serif" font-weight="bold" font-size="38.5" fill="#000">
<text x="350.6" y="782" font-size="37.6"><tspan font-style="italic">n</tspan> (cm<tspan font-size="22" dy="-18.6" dx="0.5">-3</tspan><tspan dy="18.6" dx="-3">)</tspan></text>
<text transform="translate(55.5,565.2) rotate(-90) scale(1.16,1.04) skewX(-7)" font-size="38" font-style="italic">S</text>
<text transform="translate(55.3,532.3) rotate(-90)" font-size="38">(<tspan font-weight="normal">μ</tspan>V/K)</text>
</g>
</svg>
</body></html>
